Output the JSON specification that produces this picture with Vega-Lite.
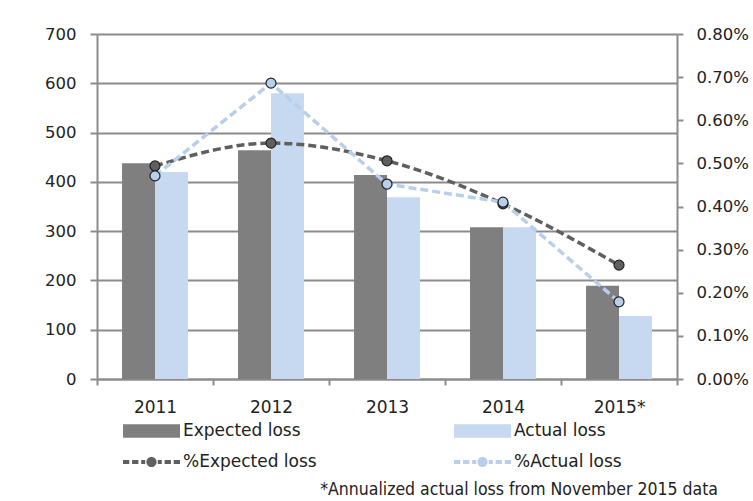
{
  "$schema": "https://vega.github.io/schema/vega-lite/v6.json",
  "width": 580,
  "height": 345,
  "autosize": {"type": "none"},
  "padding": {"left": 97, "top": 34, "right": 76, "bottom": 122},
  "background": "white",
  "config": {
    "font": "DejaVu Sans",
    "view": {"stroke": null},
    "axis": {"labelColor": "#222222", "domainColor": "#8c8c8c", "tickColor": "#8c8c8c", "domainWidth": 2, "tickWidth": 2, "title": null}
  },
  "title": {
    "text": "*Annualized actual loss from November 2015 data",
    "orient": "bottom",
    "anchor": "end",
    "frame": "group",
    "font": "DejaVu Sans Condensed",
    "fontSize": 17.5,
    "fontWeight": "normal",
    "color": "#222222",
    "offset": 11,
    "dx": 41
  },
  "data": {
    "values": [
      {"year": "2011", "series": "Expected loss", "value": 438},
      {"year": "2011", "series": "Actual loss", "value": 420},
      {"year": "2012", "series": "Expected loss", "value": 464},
      {"year": "2012", "series": "Actual loss", "value": 580},
      {"year": "2013", "series": "Expected loss", "value": 414},
      {"year": "2013", "series": "Actual loss", "value": 369},
      {"year": "2014", "series": "Expected loss", "value": 308},
      {"year": "2014", "series": "Actual loss", "value": 308},
      {"year": "2015*", "series": "Expected loss", "value": 189},
      {"year": "2015*", "series": "Actual loss", "value": 128},
      {"year": "2011", "series": "%Expected loss", "value": 0.00494},
      {"year": "2012", "series": "%Expected loss", "value": 0.00547},
      {"year": "2013", "series": "%Expected loss", "value": 0.00506},
      {"year": "2014", "series": "%Expected loss", "value": 0.00406},
      {"year": "2015*", "series": "%Expected loss", "value": 0.00264},
      {"year": "2011", "series": "%Actual loss", "value": 0.00471},
      {"year": "2012", "series": "%Actual loss", "value": 0.00686},
      {"year": "2013", "series": "%Actual loss", "value": 0.00452},
      {"year": "2014", "series": "%Actual loss", "value": 0.0041},
      {"year": "2015*", "series": "%Actual loss", "value": 0.00179}
    ]
  },
  "encoding": {
    "x": {
      "field": "year",
      "type": "nominal",
      "sort": null,
      "scale": {"paddingInner": 0, "paddingOuter": 0},
      "axis": {"labelAngle": 0, "labelFontSize": 17, "labelPadding": 14, "tickBand": "extent", "tickSize": 6, "grid": false}
    },
    "color": {
      "field": "series",
      "type": "nominal",
      "scale": {
        "domain": ["Expected loss", "Actual loss", "%Expected loss", "%Actual loss"],
        "range": ["#7f7f7f", "#c6d9f1", "#5f5f5f", "#b8cfec"]
      },
      "legend": {
        "title": null,
        "orient": "none",
        "direction": "horizontal",
        "legendX": 26,
        "legendY": 387,
        "columns": 2,
        "columnPadding": 137,
        "rowPadding": 13,
        "padding": 0,
        "labelFontSize": 17,
        "labelColor": "#222222",
        "labelOffset": 40,
        "symbolSize": 400,
        "encode": {
          "symbols": {
            "update": {
              "shape": {"signal": "indexof(datum.value, '%') === 0 ? 'M-1,-0.2H-0.37V0.2H-1Z M-0.09,-0.2H0.54V0.2H-0.09Z M0.82,-0.2H1.22V0.2H0.82Z M2.48,-0.2H2.88V0.2H2.48Z M3.16,-0.2H3.79V0.2H3.16Z M4.07,-0.2H4.7V0.2H4.07Z M1.34,0A0.51,0.51 0 1,0 2.36,0A0.51,0.51 0 1,0 1.34,0Z' : 'M-1,-0.68H4.7V0.68H-1Z'"},
              "fill": {"signal": "datum.value === 'Expected loss' ? '#7f7f7f' : datum.value === '%Expected loss' ? '#666666' : '#c6d9f1'"},
              "strokeWidth": {"value": 0},
              "opacity": {"value": 1},
              "fillOpacity": {"value": 1}
            }
          }
        }
      }
    }
  },
  "layer": [
    {
      "transform": [{"filter": "indexof(datum.series, '%') < 0"}],
      "mark": {"type": "bar", "opacity": 1},
      "encoding": {
        "xOffset": {
          "field": "series",
          "type": "nominal",
          "sort": ["Expected loss", "Actual loss"],
          "scale": {"paddingInner": 0, "paddingOuter": 0.76}
        },
        "y": {
          "field": "value",
          "type": "quantitative",
          "scale": {"domain": [0, 700]},
          "axis": {
            "values": [0, 100, 200, 300, 400, 500, 600, 700],
            "grid": true,
            "gridColor": "#8c8c8c",
            "gridWidth": 2,
            "tickSize": 7,
            "labelFontSize": 16.5,
            "labelPadding": 14
          }
        }
      }
    },
    {
      "transform": [{"filter": "indexof(datum.series, '%') === 0"}],
      "encoding": {
        "y": {
          "field": "value",
          "type": "quantitative",
          "scale": {"domain": [0, 0.008]},
          "axis": {
            "orient": "right",
            "format": ".2%",
            "values": [0, 0.001, 0.002, 0.003, 0.004, 0.005, 0.006, 0.007, 0.008],
            "grid": false,
            "tickSize": 6,
            "labelFontSize": 16.5,
            "labelPadding": 13
          }
        }
      },
      "layer": [
        {
          "transform": [{"filter": "datum.series === '%Expected loss'"}],
          "mark": {"type": "line", "interpolate": "monotone", "strokeWidth": 3.5, "strokeDash": [8, 4]}
        },
        {
          "transform": [{"filter": "datum.series === '%Actual loss'"}],
          "mark": {"type": "line", "interpolate": "linear", "strokeWidth": 3.5, "strokeDash": [8, 4]}
        },
        {
          "mark": {"type": "point", "filled": true, "size": 100, "stroke": "#222222", "strokeWidth": 1.2, "opacity": 1}
        }
      ]
    }
  ],
  "resolve": {"scale": {"y": "independent"}}
}
